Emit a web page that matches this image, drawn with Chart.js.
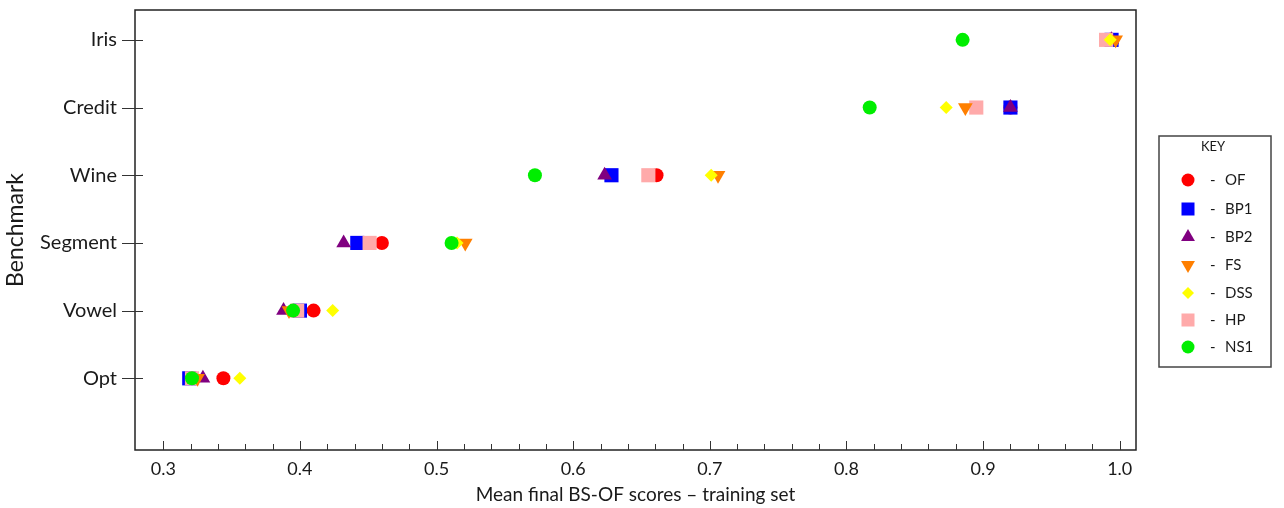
<!DOCTYPE html>
<html>
<head>
<meta charset="utf-8">
<script src="https://cdn.jsdelivr.net/npm/chart.js@4/dist/chart.umd.min.js"></script>
<style>
    html, body { margin: 0; padding: 0; background: #fff; }
    #wrap { width: 1284px; height: 508px; }
</style>
</head>
<body>
<div id="wrap"><canvas id="bench-chart" width="1284" height="508"></canvas></div>
<script>
// Benchmarks, top to bottom
const benchmarks = ['Iris', 'Credit', 'Wine', 'Segment', 'Vowel', 'Opt'];

// Mean final BS-OF scores per method (same order as benchmarks)
const ofScores  = [0.993, 0.920, 0.661, 0.460, 0.410, 0.344];
const bp1Scores = [0.994, 0.920, 0.628, 0.442, 0.400, 0.319];
const bp2Scores = [0.994, 0.920, 0.623, 0.432, 0.388, 0.329];
const fsScores  = [0.997, 0.887, 0.706, 0.521, 0.392, 0.325];
const dssScores = [0.993, 0.873, 0.701, 0.515, 0.424, 0.356];
const hpScores  = [0.990, 0.895, 0.655, 0.451, 0.398, 0.321];
const ns1Scores = [0.885, 0.817, 0.572, 0.511, 0.395, 0.321];

const xTickValues = [0.3, 0.4, 0.5, 0.6, 0.7, 0.8, 0.9, 1.0];
const xMinorStep = 0.02;

const FONT = 'Lato';
const TEXT = '#1a1a1a';

// y position of each benchmark (Iris at top)
const yOf = (i) => benchmarks.length - i;

const series = [
    { label: 'OF',  data: ofScores,  color: '#ff0000', style: 'circle',   radius: 7,   rot: 0,   order: 6, legR: 6.5 },
    { label: 'BP1', data: bp1Scores, color: '#0000ff', style: 'rect',     radius: 10,  rot: 0,   order: 5, legR: 9.2 },
    { label: 'BP2', data: bp2Scores, color: '#800080', style: 'triangle', radius: 8.5, rot: 0,   order: 4, legR: 8 },
    { label: 'FS',  data: fsScores,  color: '#ff7f00', style: 'triangle', radius: 8.5, rot: 180, order: 2, legR: 8 },
    { label: 'DSS', data: dssScores, color: '#ffff00', style: 'rectRot',  radius: 6.5, rot: 0,   order: 1, legR: 6 },
    { label: 'HP',  data: hpScores,  color: '#ffaaaa', style: 'rect',     radius: 10,  rot: 0,   order: 3, legR: 9.2 },
    { label: 'NS1', data: ns1Scores, color: '#00ee00', style: 'circle',   radius: 7,   rot: 0,   order: 0, legR: 6.5 }
];

// Frame + inward ticks, drawn under the markers
const framePlugin = {
    id: 'frame',
    beforeDatasetsDraw(chart) {
        const { ctx, chartArea: a, scales } = chart;
        ctx.save();
        ctx.strokeStyle = '#222';
        ctx.lineWidth = 1.5;
        ctx.strokeRect(a.left, a.top, a.right - a.left, a.bottom - a.top);

        ctx.lineWidth = 1;
        ctx.strokeStyle = '#333';
        ctx.beginPath();
        // x ticks (every 0.02, taller at labelled values)
        for (let k = 0; k <= 35; k++) {
            const v = 0.3 + k * xMinorStep;
            const px = Math.round(scales.x.getPixelForValue(v)) + 0.5;
            const len = (k % 5 === 0) ? 9 : 6;
            ctx.moveTo(px, a.bottom);
            ctx.lineTo(px, a.bottom - len);
        }
        // y ticks crossing the axis
        benchmarks.forEach((b, i) => {
            const py = Math.round(scales.y.getPixelForValue(yOf(i))) + 0.5;
            ctx.moveTo(a.left - 13, py);
            ctx.lineTo(a.left + 8, py);
        });
        ctx.stroke();
        ctx.restore();
    }
};

// Boxed "KEY" legend on the right
const keyPlugin = {
    id: 'keyBox',
    afterDraw(chart) {
        const ctx = chart.ctx;
        const box = { x: 1159, y: 136, w: 112, h: 231 };
        ctx.save();
        ctx.strokeStyle = '#444';
        ctx.lineWidth = 1.5;
        ctx.strokeRect(box.x, box.y, box.w, box.h);

        ctx.fillStyle = TEXT;
        ctx.font = `13px ${FONT}`;
        ctx.textAlign = 'center';
        ctx.textBaseline = 'middle';
        ctx.fillText('KEY', 1213, 147);

        const rowY = [180, 209, 237, 265, 293, 320, 347];
        series.forEach((s, i) => {
            ctx.fillStyle = s.color;
            Chart.helpers.drawPoint(ctx, {
                pointStyle: s.style,
                radius: s.legR,
                rotation: s.rot,
                borderWidth: 0
            }, 1188, rowY[i]);
            ctx.fillStyle = TEXT;
            ctx.font = `15px ${FONT}`;
            ctx.textAlign = 'left';
            ctx.fillText('-', 1210, rowY[i]);
            ctx.fillText(s.label, 1225, rowY[i]);
        });
        ctx.restore();
    }
};

const ctx = document.getElementById('bench-chart').getContext('2d');

new Chart(ctx, {
    type: 'scatter',
    data: {
        datasets: series.map(s => ({
            label: s.label,
            data: s.data.map((v, i) => ({ x: v, y: yOf(i) })),
            backgroundColor: s.color,
            borderWidth: 0,
            pointStyle: s.style,
            pointRadius: s.radius,
            pointRotation: s.rot,
            order: s.order
        }))
    },
    options: {
        responsive: false,
        animation: false,
        layout: { padding: { left: 0, right: 148, top: 8, bottom: 0 } },
        plugins: {
            legend: { display: false },
            tooltip: { enabled: false }
        },
        scales: {
            x: {
                type: 'linear',
                min: 0.2793,
                max: 1.0119,
                grid: { display: false, drawTicks: false },
                border: { display: false },
                afterBuildTicks: (scale) => { scale.ticks = xTickValues.map(v => ({ value: v })); },
                afterFit: (scale) => {
                    scale.height = 58;
                    scale.paddingLeft = 0;
                    scale.paddingRight = 0;
                },
                ticks: {
                    color: TEXT,
                    padding: 8,
                    font: { family: FONT, size: 18 },
                    maxRotation: 0,
                    callback: (v) => Number(v).toFixed(1)
                },
                title: {
                    display: true,
                    text: 'Mean final BS-OF scores \u2013 training set',
                    color: TEXT,
                    font: { family: FONT, size: 19 },
                    padding: { top: 0, bottom: 2 }
                }
            },
            y: {
                type: 'linear',
                min: -0.059,
                max: 6.441,
                grid: { display: false, drawTicks: false },
                border: { display: false },
                afterBuildTicks: (scale) => { scale.ticks = benchmarks.map((b, i) => ({ value: yOf(i) })); },
                afterFit: (scale) => {
                    scale.width = 135;
                    scale.paddingTop = 0;
                    scale.paddingBottom = 0;
                },
                ticks: {
                    color: TEXT,
                    padding: 18,
                    font: { family: FONT, size: 20 },
                    callback: (v) => benchmarks[benchmarks.length - v]
                },
                title: {
                    display: true,
                    text: 'Benchmark',
                    color: TEXT,
                    font: { family: FONT, size: 23 },
                    padding: { top: 2, bottom: 0 }
                }
            }
        }
    },
    plugins: [framePlugin, keyPlugin]
});
</script>
</body>
</html>
